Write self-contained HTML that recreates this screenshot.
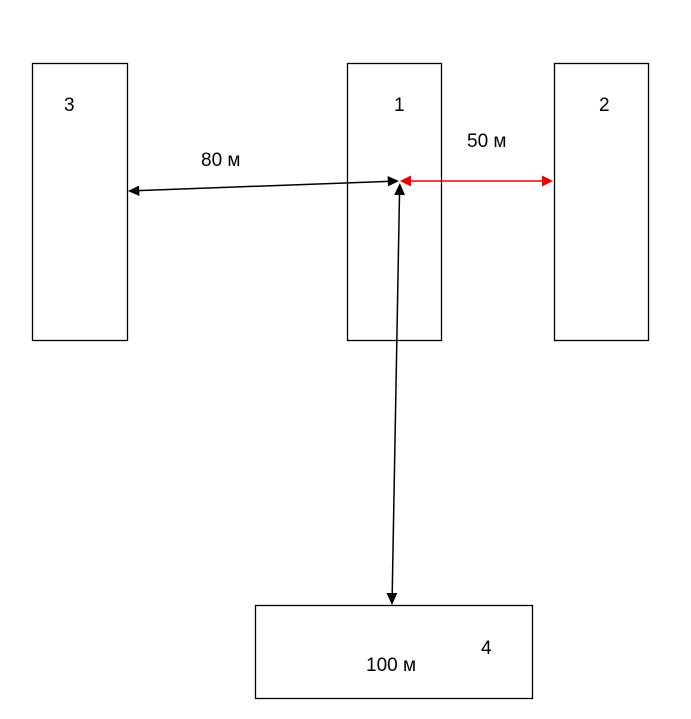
<!DOCTYPE html>
<html><head><meta charset="utf-8"><style>
html,body{margin:0;padding:0;background:#fff;}
svg{display:block;}
text{font-family:"Liberation Sans",sans-serif;font-size:19px;fill:#000;}
</style></head><body>
<svg width="691" height="719" viewBox="0 0 691 719" xmlns="http://www.w3.org/2000/svg">
<g fill="#fff" stroke="#000" stroke-width="1.3">
<rect x="32.5" y="63.5" width="95" height="277"/>
<rect x="347.5" y="63.5" width="94" height="277"/>
<rect x="554.5" y="63.5" width="94" height="277"/>
<rect x="255.5" y="605.5" width="277" height="93"/>
</g>
<line x1="138" y1="190.6" x2="388" y2="181.4" stroke="#000" stroke-width="1.5"/>
<polygon points="128,191 139,185.6 139.4,196" fill="#000"/>
<polygon points="399,181 387.6,176 388,186.4" fill="#000"/>
<line x1="410" y1="181" x2="543" y2="181" stroke="#e00" stroke-width="1.5"/>
<polygon points="400,181 411,175.5 411,186.5" fill="#e00"/>
<polygon points="553,181 542,175.5 542,186.5" fill="#e00"/>
<line x1="399.5" y1="194" x2="392.2" y2="594" stroke="#000" stroke-width="1.5"/>
<polygon points="399.8,183 394.2,195 405,195" fill="#000"/>
<polygon points="392,605 386.5,593 397.3,593" fill="#000"/>
<text x="64" y="111">3</text>
<text x="394" y="111">1</text>
<text x="599" y="111">2</text>
<text x="481" y="654">4</text>
<text x="201" y="166">80 м</text>
<text x="467" y="147">50 м</text>
<text x="366" y="671">100  м</text>
</svg>
</body></html>
